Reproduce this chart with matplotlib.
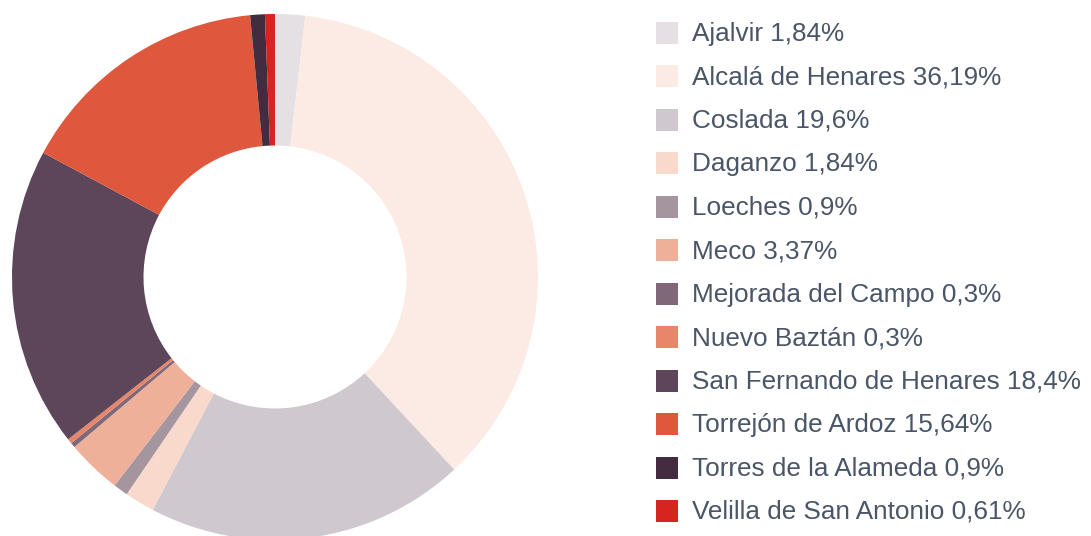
import matplotlib.pyplot as plt
from matplotlib.patches import Rectangle

municipios = ["Ajalvir", "Alcalá de Henares", "Coslada", "Daganzo", "Loeches", "Meco",
              "Mejorada del Campo", "Nuevo Baztán", "San Fernando de Henares",
              "Torrejón de Ardoz", "Torres de la Alameda", "Velilla de San Antonio"]
porcentajes = [1.84, 36.19, 19.6, 1.84, 0.9, 3.37, 0.3, 0.3, 18.4, 15.64, 0.9, 0.61]
etiquetas = ["1,84%", "36,19%", "19,6%", "1,84%", "0,9%", "3,37%", "0,3%", "0,3%",
             "18,4%", "15,64%", "0,9%", "0,61%"]
colores = ["#e5e0e4", "#fcebe5", "#cfc8ce", "#f8d9cc", "#a5959f", "#efb09a",
           "#7f6878", "#e8866a", "#5d4659", "#df573c", "#432c40", "#d6241f"]

W, H = 1091, 536
fig = plt.figure(figsize=(W / 100, H / 100), dpi=100)

# donut
ax = fig.add_axes([12 / W, (H - 540) / H, 526 / W, 526 / H])
ax.pie(porcentajes, colors=colores, startangle=90, counterclock=False,
       radius=1.0, wedgeprops=dict(width=0.5, linewidth=0))
ax.set_xlim(-1, 1)
ax.set_ylim(-1, 1)
ax.set_aspect("equal")
ax.axis("off")

# leyenda
lax = fig.add_axes([0, 0, 1, 1])
lax.set_xlim(0, W)
lax.set_ylim(H, 0)
lax.axis("off")
y0, paso = 33, 43.45
for i, (m, e, c) in enumerate(zip(municipios, etiquetas, colores)):
    y = y0 + i * paso
    lax.add_patch(Rectangle((656, y - 11), 22, 22, facecolor=c, edgecolor="none"))
    lax.text(692, y + 1, f"{m} {e}", fontsize=18.8, color="#4a5568",
             family=["Liberation Sans", "DejaVu Sans"], va="center", ha="left")

fig.savefig("out.png", dpi=100)
